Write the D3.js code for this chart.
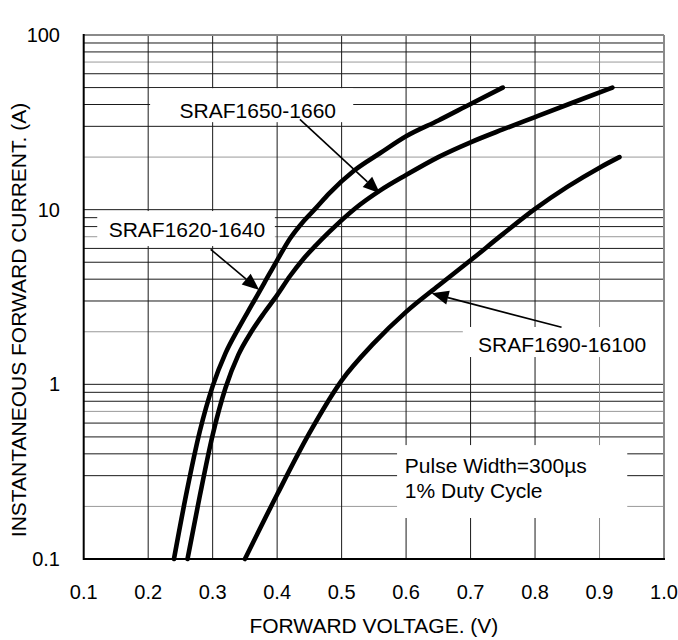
<!DOCTYPE html>
<html><head><meta charset="utf-8">
<script src="https://cdn.jsdelivr.net/npm/d3@7"></script>
<style>
body{margin:0;background:#fff}
text{font-family:"Liberation Sans",Arial,Helvetica,sans-serif;fill:#000}
</style>
</head><body>
<svg id="c" width="678" height="640"></svg>
<script>
// ---- data ----
const seriesNames = ["SRAF1620-1640", "SRAF1650-1660", "SRAF1690-16100"];

const voltsA = [0.240,0.260,0.280,0.300,0.320,0.340,0.360,0.380,0.400,0.420,0.440,0.460,0.480,0.520,0.560,0.600,0.650,0.700,0.750];
const ampsA  = [0.100,0.245,0.537,0.977,1.51, 2.09, 2.82, 3.80, 5.13, 6.84, 8.51, 10.2, 12.3, 16.8, 21.1, 26.3, 32.4, 40.3, 50.0];

const voltsB = [0.261,0.280,0.300,0.320,0.340,0.360,0.380,0.400,0.420,0.440,0.460,0.480,0.520,0.560,0.600,0.650,0.700,0.750,0.800,0.860,0.920];
const ampsB  = [0.100,0.229,0.513,0.955,1.48, 2.00, 2.57, 3.24, 4.17, 5.19, 6.24, 7.41, 10.1, 12.9, 15.8, 20.0, 24.3, 28.8, 33.9, 41.2, 50.0];

const voltsC = [0.350,0.400,0.450,0.500,0.550,0.600,0.650,0.700,0.750,0.800,0.850,0.900,0.931];
const ampsC  = [0.100,0.234,0.525,1.05, 1.72, 2.60, 3.67, 5.13, 7.24, 10.1, 13.5, 17.4, 20.0];

const xTickLabels = ["0.1","0.2","0.3","0.4","0.5","0.6","0.7","0.8","0.9","1.0"];
const yTickValues = [0.1, 1, 10, 100];
const yTickLabels = ["0.1", "1", "10", "100"];
const noteLines = ["Pulse Width=300\u00B5s", "1% Duty Cycle"];
const xTitle = "FORWARD VOLTAGE. (V)";
const yTitle = "INSTANTANEOUS FORWARD CURRENT. (A)";

// ---- scales ----
const svg = d3.select("#c");
const x = d3.scaleLinear().domain([0.1, 1.0]).range([83.7, 664]);
const y = d3.scaleLog().domain([0.1, 100]).range([559, 35]);
const FONT = 20;

// ---- grid ----
const grid = svg.append("g");
const mant = v => Math.round(v / Math.pow(10, Math.floor(Math.log10(v) + 1e-9)));
y.ticks().filter(v => v > 0.1 + 1e-9 && v < 100 - 1e-6).forEach(v => {
  const m = mant(v);
  grid.append("line")
    .attr("x1", x(0.1)).attr("x2", x(1.0))
    .attr("y1", y(v)).attr("y2", y(v))
    .attr("stroke", (m === 2 || m === 7) ? "#999" : "#1a1a1a")
    .attr("stroke-width", 1);
});
const xv = x.ticks(9);
xv.filter(v => v > 0.1 + 1e-9 && v < 1.0 - 1e-9).forEach(v => {
  grid.append("line")
    .attr("x1", x(v)).attr("x2", x(v))
    .attr("y1", y(100)).attr("y2", y(0.1))
    .attr("stroke", Math.abs(v - 0.9) < 1e-6 ? "#888" : "#1a1a1a")
    .attr("stroke-width", 1);
});

// ---- annotation boxes (white backgrounds that hide the grid) ----
const boxes = [
  [0.203, 0.518, 31.7, 49.6],
  [0.121, 0.3965, 6.19, 9.82],
  [0.688, 1.0, 1.433, 2.13],
  [0.586, 0.943, 0.1717, 0.449]
];
boxes.forEach(b => {
  svg.append("rect")
    .attr("x", x(b[0])).attr("y", y(b[3]))
    .attr("width", x(b[1]) - x(b[0])).attr("height", y(b[2]) - y(b[3]))
    .attr("fill", "#fff");
});

// ---- frame ----
svg.append("line").attr("x1", x(0.1)).attr("x2", x(1.0)).attr("y1", y(100)).attr("y2", y(100))
  .attr("stroke", "#8a8a8a").attr("stroke-width", 2);
svg.append("line").attr("x1", x(1.0)).attr("x2", x(1.0)).attr("y1", y(100)).attr("y2", y(0.1))
  .attr("stroke", "#8a8a8a").attr("stroke-width", 2);
svg.append("line").attr("x1", x(0.1)).attr("x2", x(0.1)).attr("y1", y(100) - 1).attr("y2", y(0.1) + 1)
  .attr("stroke", "#000").attr("stroke-width", 2);
svg.append("line").attr("x1", x(0.1)).attr("x2", x(1.0) + 1).attr("y1", y(0.1)).attr("y2", y(0.1))
  .attr("stroke", "#000").attr("stroke-width", 2);

// ---- curves ----
const line = d3.line().x(d => x(d[0])).y(d => y(d[1])).curve(d3.curveMonotoneX);
[[voltsA, ampsA], [voltsB, ampsB], [voltsC, ampsC]].forEach(([vs, as]) => {
  svg.append("path")
    .datum(vs.map((v, i) => [v, as[i]]))
    .attr("d", line)
    .attr("fill", "none")
    .attr("stroke", "#000")
    .attr("stroke-width", 4.6)
    .attr("stroke-linecap", "round")
    .attr("stroke-linejoin", "round");
});

// ---- arrows ----
const arrows = [
  { tail: [0.4353, 32.9], tip: [0.5594, 12.4] },
  { tail: [0.2969, 5.93], tip: [0.3722, 3.47] },
  { tail: [0.8411, 2.12], tip: [0.6395, 3.32] }
];
arrows.forEach(a => {
  const x0 = x(a.tail[0]), y0 = y(a.tail[1]), x1 = x(a.tip[0]), y1 = y(a.tip[1]);
  const dx = x1 - x0, dy = y1 - y0, L = Math.hypot(dx, dy), ux = dx / L, uy = dy / L;
  const hl = 17, hw = 7;
  const bx = x1 - ux * hl, by = y1 - uy * hl;
  svg.append("line").attr("x1", x0).attr("y1", y0).attr("x2", bx).attr("y2", by)
    .attr("stroke", "#000").attr("stroke-width", 1.6);
  svg.append("polygon")
    .attr("points", [[x1, y1], [bx - uy * hw, by + ux * hw], [bx + uy * hw, by - ux * hw]].map(p => p.join(",")).join(" "))
    .attr("fill", "#000");
});

// ---- annotation text ----
const labelPos = [[0.260, 7.74], [0.370, 37.2], [0.842, 1.694]];
seriesNames.forEach((name, i) => {
  svg.append("text")
    .attr("x", x(labelPos[i][0]))
    .attr("y", y(labelPos[i][1]) + 7.5)
    .attr("text-anchor", "middle")
    .attr("font-size", 21)
    .text(name);
});
const notePos = [[0.598, 0.345], [0.598, 0.248]];
noteLines.forEach((t, i) => {
  svg.append("text")
    .attr("x", x(notePos[i][0]))
    .attr("y", y(notePos[i][1]) + 7.5)
    .attr("font-size", 21)
    .text(t);
});

// ---- tick labels ----
xv.forEach((v, i) => {
  svg.append("text")
    .attr("x", x(v)).attr("y", 599)
    .attr("text-anchor", "middle")
    .attr("font-size", FONT)
    .text(xTickLabels[i]);
});
yTickValues.forEach((v, i) => {
  svg.append("text")
    .attr("x", 60).attr("y", y(v) + 7)
    .attr("text-anchor", "end")
    .attr("font-size", FONT)
    .text(yTickLabels[i]);
});

// ---- axis titles ----
svg.append("text")
  .attr("x", (x(0.1) + x(1.0)) / 2).attr("y", 633)
  .attr("text-anchor", "middle")
  .attr("font-size", 21)
  .text(xTitle);
svg.append("text")
  .attr("transform", "translate(26,320) rotate(-90)")
  .attr("text-anchor", "middle")
  .attr("font-size", 21)
  .text(yTitle);
</script>
</body></html>
